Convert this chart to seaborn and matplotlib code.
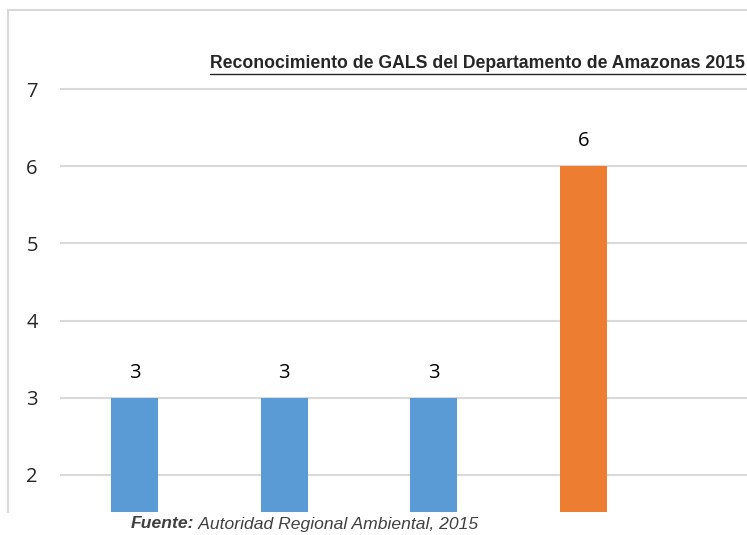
import matplotlib
matplotlib.use("Agg")
import matplotlib.pyplot as plt
import seaborn as sns
import pandas as pd

# ---- data ----
categories = ["Categoría 1", "Categoría 2", "Categoría 3", "Categoría 4"]
values = [3, 3, 3, 6]
groups = ["a", "a", "a", "b"]
palette = {"a": "#5B9BD5", "b": "#ED7D31"}
y_ticks = [2, 3, 4, 5, 6, 7]
title = "Reconocimiento de GALS del Departamento de Amazonas 2015"
source_bold = "Fuente:"
source_rest = " Autoridad Regional Ambiental, 2015"

df = pd.DataFrame({"cat": categories, "val": values, "grp": groups})

sns.set_theme(style="white")
plt.rcParams["font.family"] = ["Open Sans", "DejaVu Sans"]

W, H = 747, 535
fig = plt.figure(figsize=(W / 100, H / 100), dpi=100)

def fx(px):
    return px / W

def fy(py):
    return 1 - py / H

# outer chart frame (left and top edges only; the rest is cropped)
frame_kw = dict(color="#D9D9D9", linewidth=1.5, transform=fig.transFigure)
fig.add_artist(plt.Line2D([fx(8), fx(8)], [fy(512), fy(10)], **frame_kw))
fig.add_artist(plt.Line2D([fx(8), fx(747)], [fy(10), fy(10)], **frame_kw))

ax_left, ax_right, ax_top, ax_bot = 60, 747, 50, 512
ax = fig.add_axes([fx(ax_left), fy(ax_bot), fx(ax_right - ax_left), fy(ax_top) - fy(ax_bot)])
ax.set_facecolor("none")

sns.barplot(data=df, x="cat", y="val", hue="grp", palette=palette,
            dodge=False, width=0.315, legend=False, ax=ax, zorder=3,
            saturation=1, linewidth=0)

ppu = (475 - 89) / 5.0
ax.set_ylim(2 - (512 - 475) / ppu, 7 + (89 - ax_top) / ppu)
spacing = 149.33
ax.set_xlim(-0.5, 3 + (747 - 583.5) / spacing)

ax.set_yticks(y_ticks)
ax.set_yticklabels([str(t) for t in y_ticks], fontsize=14.5, color="#262626")
ax.tick_params(axis="y", length=0, pad=16)
ax.set_xticks([])
ax.set_xlabel("")
ax.set_ylabel("")
ax.grid(axis="y", color="#D9D9D9", linewidth=1.5, zorder=0)
for s in ax.spines.values():
    s.set_visible(False)

for i, v in enumerate(values):
    ax.annotate(str(v), (i, v), xytext=(0, 18), textcoords="offset points",
                ha="center", va="center", fontsize=14.5, color="black")

narrow = ["Liberation Sans Narrow", "Liberation Sans", "DejaVu Sans"]
tt = fig.text(fx(745), fy(63), title, ha="right", va="center", fontsize=12.7,
              fontweight="bold", color="#262626", family=narrow)
fig.canvas.draw()
tb = tt.get_window_extent()
# underline
fig.add_artist(plt.Line2D([tb.x0 / W, tb.x1 / W], [fy(74), fy(74)],
                          color="#262626", linewidth=1, transform=fig.transFigure))

t1 = fig.text(fx(131), fy(524), source_bold, ha="left", va="center", fontsize=12.6,
              fontweight="bold", style="italic", color="#404040", family=narrow)
fig.canvas.draw()
bb = t1.get_window_extent()
fig.text(bb.x1 / W, fy(524), source_rest, ha="left", va="center", fontsize=12.6,
         style="italic", color="#404040", family=narrow)

fig.savefig("out.png", dpi=100)
